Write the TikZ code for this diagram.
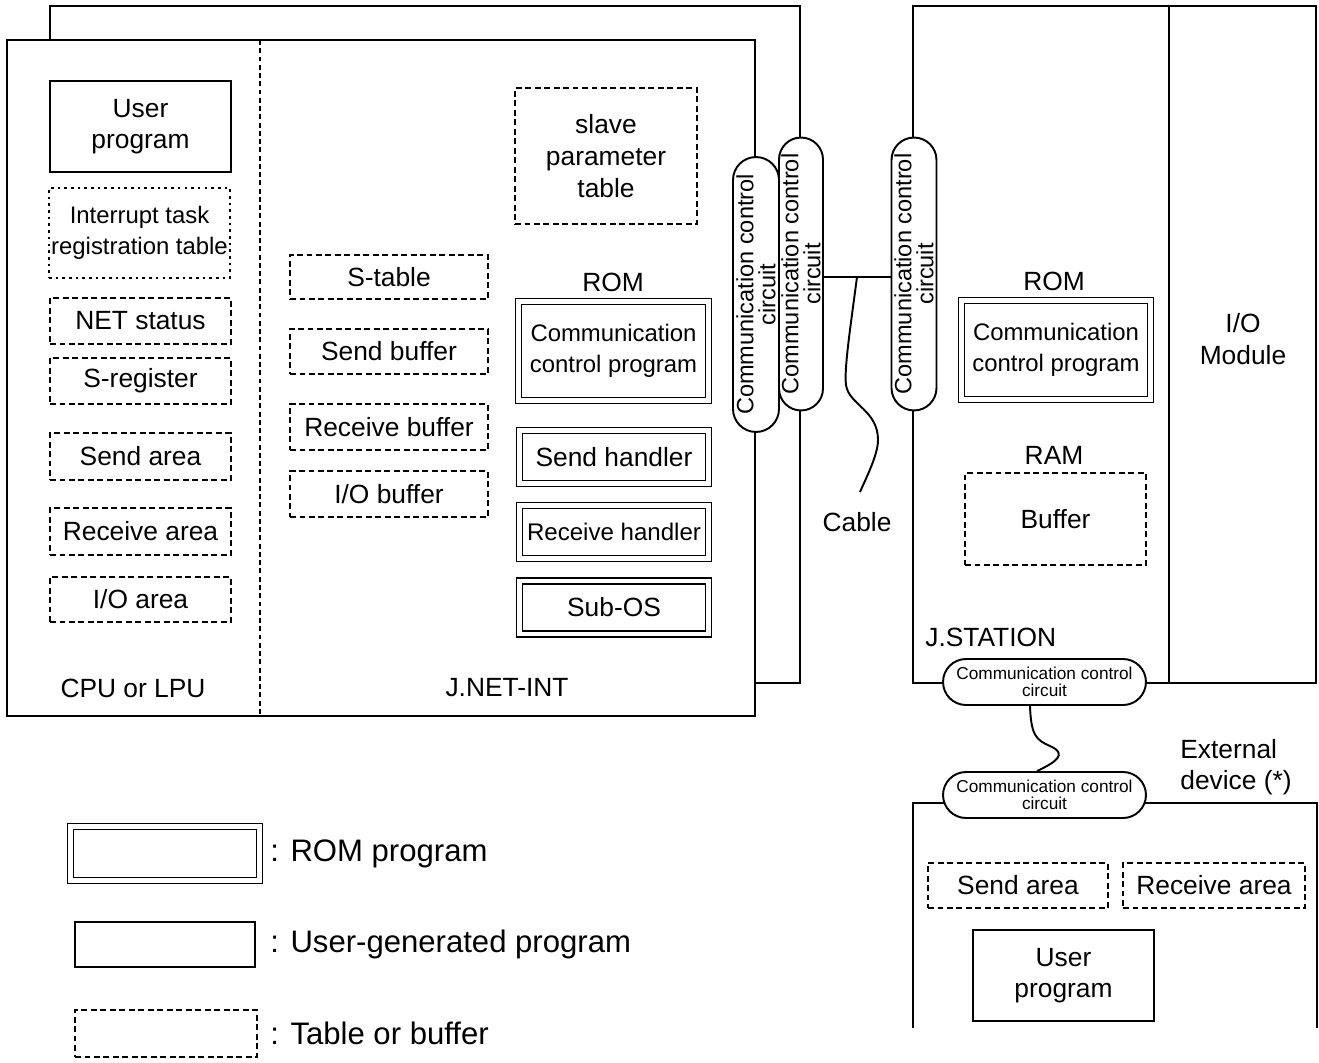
\documentclass[tikz,border=0pt]{standalone}
\usepackage{fontspec}
\setmainfont{Liberation Sans}
\usetikzlibrary{shapes.misc}

\begin{document}
\begin{tikzpicture}[x=0.02cm,y=-0.02cm,
			panelline/.style={line width=1.1pt},
			memtext/.style={
				align=center,
				inner sep=0pt,
				font=\fontsize{15pt}{18pt}\selectfont
			},
			userbox/.style={memtext,draw,line width=1.1pt},
			tablebox/.style={memtext,draw,line width=1.6pt,dash pattern=on 3.4pt off 2pt},
			dotbox/.style={memtext,draw,line width=1pt,dash pattern=on 1.5pt off 2.3pt},
			rombox/.style={memtext,draw,double,double distance=2.4pt,line width=1pt},
			circuit/.style={
				draw,
				fill=white,
				rounded rectangle,
				line width=1.1pt,
				align=center,
				inner sep=0pt,
				font=\fontsize{13.4pt}{12.5pt}\selectfont
			},
			smallcircuit/.style={circuit,font=\fontsize{9.8pt}{9.8pt}\selectfont},
			wire/.style={line width=1.1pt},
			legendtext/.style={anchor=west,inner sep=0pt,font=\fontsize{17.7pt}{20pt}\selectfont}
			]
			
			\useasboundingbox (0,0) rectangle (1319,1062);
			
			% panels
			\draw[panelline] (50,40) -- (50,6) -- (800,6) -- (800,683) -- (755,683);
			\draw[panelline] (7,40) rectangle (755,716);
			\draw[line width=1.4pt,dash pattern=on 2.8pt off 1.9pt] (260,40) -- (260,716);
			\draw[panelline] (913,6) rectangle (1316,683);
			\draw[panelline] (1169,6) -- (1169,683);
			\draw[panelline] (913,1028) -- (913,803) -- (1317,803) -- (1317,1028);
			
			% CPU or LPU
			\node[userbox,minimum width=3.62cm,minimum height=1.82cm] (userprog) at (140.5,126.5) {User\\program};
			\node[dotbox,minimum width=3.62cm,minimum height=1.8cm,font=\fontsize{13.6pt}{18pt}\selectfont] (inttable) at (139.5,233) {Interrupt task\\registration table};
			\node[tablebox,minimum width=3.62cm,minimum height=0.92cm] (netstatus) at (140.5,321) {NET status};
			\node[tablebox,minimum width=3.62cm,minimum height=0.92cm] (sreg) at (140.5,381) {S-register};
			\node[tablebox,minimum width=3.62cm,minimum height=0.94cm] (sendarea) at (140.5,456.5) {Send area};
			\node[tablebox,minimum width=3.62cm,minimum height=0.94cm] (recvarea) at (140.5,531.5) {Receive area};
			\node[tablebox,minimum width=3.62cm,minimum height=0.9cm] (ioarea) at (140.5,599.5) {I/O area};
			\node[memtext] (cpulbl) at (133,688) {CPU or LPU};
			
			% J.NET-INT
			\node[tablebox,minimum width=3.96cm,minimum height=0.88cm] (stable) at (389,277) {S-table};
			\node[tablebox,minimum width=3.96cm,minimum height=0.9cm] (sendbuf) at (389,351.5) {Send buffer};
			\node[tablebox,minimum width=3.96cm,minimum height=0.92cm] (recvbuf) at (389,427) {Receive buffer};
			\node[tablebox,minimum width=3.96cm,minimum height=0.92cm] (iobuf) at (389,494) {I/O buffer};
			\node[tablebox,minimum width=3.64cm,minimum height=2.72cm] (slavetable) at (606,156) {slave\\parameter\\table};
			\node[memtext] (romlbl) at (613,282) {ROM};
			\node[rombox,minimum width=3.8cm,minimum height=1.98cm,font=\fontsize{13.6pt}{18pt}\selectfont] (ccprog) at (613.5,351) {Communication\\control program};
			\node[rombox,minimum width=3.78cm,minimum height=1.06cm] (sendh) at (614,457) {Send handler};
			\node[rombox,minimum width=3.78cm,minimum height=1.06cm,font=\fontsize{13.7pt}{18pt}\selectfont] (recvh) at (614,532) {Receive handler};
			\node[rombox,minimum width=3.78cm,minimum height=1.06cm] (subos) at (614,607.5) {Sub-OS};
			\node[memtext] (netintlbl) at (507,688) {J.NET-INT};
			
			% J.STATION
			\node[memtext] (romlbl2) at (1054,281) {ROM};
			\node[rombox,minimum width=3.78cm,minimum height=1.98cm,font=\fontsize{13.6pt}{18pt}\selectfont] (ccprog2) at (1056,350) {Communication\\control program};
			\node[memtext] (ramlbl) at (1054,455) {RAM};
			\node[tablebox,minimum width=3.62cm,minimum height=1.84cm] (buffer) at (1055.5,519) {Buffer};
			\node[memtext,anchor=west] (stationlbl) at (925,637) {J.STATION};
			\node[memtext] (iomodule) at (1243,339) {I/O\\Module};
			
			% communication control circuits
			\node[circuit,rotate=90,minimum width=5.5cm,minimum height=0.92cm] (pill1) at (756,294.5) {Communication control\\circuit};
			\node[circuit,rotate=90,minimum width=5.46cm,minimum height=0.88cm] (pill2) at (801,274) {Communication control\\circuit};
			\node[circuit,rotate=90,minimum width=5.46cm,minimum height=0.9cm] (pill3) at (914,274) {Communication control\\circuit};
			\node[smallcircuit,minimum width=4.06cm,minimum height=0.92cm] (pillA) at (1044.5,682) {Communication control\\circuit};
			\node[smallcircuit,minimum width=4.06cm,minimum height=0.92cm] (pillB) at (1044.5,795) {Communication control\\circuit};
			
			% cable
			\coordinate (tap) at (857,277);
			\draw[wire] (pill2.south |- tap) -- (pill3.north |- tap);
			\draw[wire] (tap) .. controls (850,330) and (844,370) .. (846,385)
			.. controls (849,405) and (878,410) .. (878,440)
			.. controls (878,455) and (866,478) .. (860,492);
			\node[memtext] (cablelbl) at (857,522) {Cable};
			\draw[wire] ([xshift=-0.29cm]pillA.south) .. controls (1031,735) and (1036,740) .. (1050,746)
			.. controls (1068,754) and (1056,762) .. ([xshift=-0.15cm]pillB.north);
			
			% external device
			\node[memtext,align=left,anchor=west] (extlbl) at (1180,767) {External\\device (*)};
			\node[tablebox,minimum width=3.6cm,minimum height=0.9cm] (extsend) at (1018,885.5) {Send area};
			\node[tablebox,minimum width=3.64cm,minimum height=0.9cm] (extrecv) at (1214,885.5) {Receive area};
			\node[userbox,minimum width=3.62cm,minimum height=1.82cm] (extuser) at (1063.5,975.5) {User\\program};
			
			% legend
			\node[rombox,minimum width=3.78cm,minimum height=1.08cm] (legrom) at (165,853.5) {};
			\node[userbox,minimum width=3.6cm,minimum height=0.9cm] (leguser) at (165,944.5) {};
			\node[tablebox,minimum width=3.64cm,minimum height=0.94cm] (legtable) at (166,1033.5) {};
			\node[legendtext] (legromtxt) at (270,853.5) {: ROM program};
			\node[legendtext] (legusertxt) at (270,944.5) {: User-generated program};
			\node[legendtext] (legtabletxt) at (270,1033.5) {: Table or buffer};
			
		\end{tikzpicture}
\end{document}
